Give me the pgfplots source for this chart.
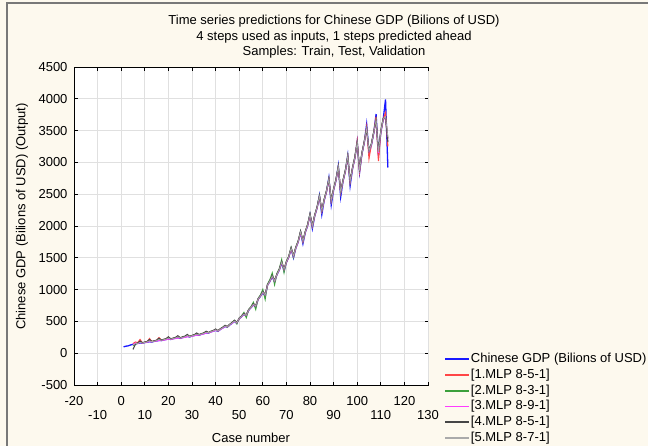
\documentclass[border=0pt]{standalone}
\usepackage{fontspec}
\setmainfont{Liberation Sans}
\usepackage{pgfplots}
\usepackage{pgfplotstable}
\pgfplotsset{compat=1.18}

\definecolor{paper}{RGB}{253,249,238}
\definecolor{frameline}{RGB}{120,120,120}
\definecolor{gdpblue}{RGB}{25,25,255}
\definecolor{mred}{RGB}{255,70,70}
\definecolor{mgreen}{RGB}{60,160,60}
\definecolor{mmag}{RGB}{255,60,255}
\definecolor{mdark}{RGB}{70,70,70}
\definecolor{mlight}{RGB}{170,170,170}

% Quarterly GDP (billions of USD) and the five network predictions
\pgfplotstableread{
x   gdp   m1    m2    m3    m4    m5
1   100   nan   nan   nan   nan   nan
2   110   nan   nan   nan   nan   nan
3   116   nan   nan   nan   nan   nan
4   130   nan   nan   nan   nan   nan
5   141   150   120   135   60    130
6   149   175   150   160   140   150
7   154   165   158   150   160   155
8   160   215   175   170   190   170
9   158   160   162   160   165   160
10  167   175   170   168   175   170
11  173   180   178   175   185   178
12  180   230   200   185   215   195
13  176   182   180   180   185   182
14  186   195   190   188   195   190
15  192   200   198   192   205   198
16  200   245   225   200   235   215
17  198   205   202   200   205   203
18  209   215   212   206   218   212
19  216   222   220   212   228   220
20  225   250   245   222   258   240
21  216   222   220   218   225   220
22  228   232   232   226   238   232
23  235   242   240   232   248   240
24  245   265   262   240   275   258
25  233   240   238   236   242   238
26  246   252   250   244   258   250
27  254   260   258   250   268   258
28  265   282   280   260   295   278
29  255   262   260   258   265   260
30  270   276   274   268   280   274
31  278   286   282   275   292   284
32  290   305   302   285   318   300
33  282   290   288   285   292   288
34  298   302   302   296   308   302
35  307   315   312   305   320   312
36  320   335   332   318   345   330
37  317   322   322   320   325   322
38  335   340   340   333   345   340
39  346   352   350   345   358   352
40  360   372   370   362   380   368
41  344   352   350   350   355   350
42  374   378   380   372   385   378
43  395   400   402   395   408   400
44  420   428   432   422   438   428
45  410   415   412   415   418   414
46  445   450   452   445   455   450
47  470   478   480   472   485   476
48  500   508   515   505   518   506
49  470   480   462   478   482   480
50  543   545   550   545   550   546
51  573   580   585   578   585   580
52  610   618   640   615   625   615
53  590   600   560   598   605   602
54  676   678   685   680   685   680
55  714   720   730   718   725   720
56  760   770   800   768   778   770
57  730   745   690   742   748   745
58  846   848   860   850   855   850
59  893   900   915   898   905   900
60  950   962   1000  958   970   962
61  900   920   850   915   925   918
62  1068  1070  1085  1072  1078  1072
63  1128  1135  1155  1130  1140  1135
64  1200  1212  1260  1210  1220  1212
65  1122  1140  1080  1135  1145  1140
66  1235  1240  1255  1240  1245  1240
67  1306  1315  1330  1310  1320  1315
68  1420  1430  1470  1425  1440  1432
69  1296  1320  1270  1315  1325  1320
70  1427  1432  1445  1430  1440  1435
71  1509  1515  1525  1512  1522  1518
72  1640  1645  1660  1640  1660  1650
73  1501  1530  1510  1525  1535  1530
74  1653  1660  1665  1655  1668  1660
75  1748  1755  1762  1750  1765  1758
76  1900  1905  1915  1900  1920  1910
77  1722  1760  1750  1755  1770  1765
78  1897  1905  1910  1900  1912  1908
79  2006  2015  2020  2010  2025  2018
80  2180  2175  2185  2170  2190  2182
81  1959  2000  1990  1995  2010  2005
82  2158  2165  2170  2162  2175  2168
83  2282  2290  2295  2285  2300  2292
84  2480  2465  2475  2460  2470  2468
85  2180  2240  2230  2235  2250  2245
86  2401  2410  2415  2405  2420  2412
87  2539  2548  2550  2542  2560  2552
88  2760  2730  2740  2725  2735  2738
89  2331  2400  2390  2395  2410  2405
90  2567  2575  2580  2570  2585  2578
91  2714  2722  2728  2718  2735  2725
92  2950  2925  2935  2920  2930  2932
93  2457  2530  2520  2525  2540  2535
94  2706  2712  2718  2708  2722  2715
95  2861  2870  2875  2865  2880  2872
96  3110  3090  3100  3085  3095  3098
97  2631  2700  2690  2695  2710  2705
98  2897  2905  2910  2900  2915  2908
99  3064  3072  3078  3068  3085  3075
100 3330  3340  3300  3290  3305  3310
101 2844  2850  2880  2875  2890  2885
102 3132  3140  3145  3135  3150  3142
103 3312  3320  3325  3315  3330  3322
104 3600  3560  3520  3510  3525  3530
105 3150  3060  3180  3175  3190  3185
106 3271  3280  3285  3275  3290  3282
107 3459  3468  3472  3462  3478  3470
108 3760  3720  3650  3640  3660  3665
109 3103  3020  3160  3150  3170  3165
110 3471  3480  3485  3475  3490  3482
111 3671  3680  3685  3675  3690  3682
112 3990  3780  3700  3690  3710  3720
113 2920  3250  3380  3360  3320  3400
}\gdpdata

\begin{document}
\begin{tikzpicture}
% page area and its frame
\path[use as bounding box, fill=paper] (0,0) rectangle (648pt,-446pt);
\draw[frameline, line width=1.2pt] (7pt,-446pt) -- (7pt,-3pt) -- (648pt,-3pt);

% title
\node[align=center, font=\fontsize{13}{15.5}\selectfont] at (334pt,-37pt)
  {Time series predictions for Chinese GDP (Bilions of USD)\\
   4 steps used as inputs, 1 steps predicted ahead\\
   Samples: Train, Test, Validation};

\begin{axis}[
  at={(74pt,-385pt)}, anchor=south west,
  width=354pt, height=318pt, scale only axis,
  xmin=-20, xmax=130, ymin=-500, ymax=4500,
  xtick={-20,0,...,120},
  extra x ticks={-10,10,...,130},
  extra x tick style={grid=major, xticklabel style={yshift=-14pt}},
  ytick={-500,0,...,4500},
  axis background/.style={fill=white},
  grid=major,
  grid style={draw=black!12, line width=0.9pt},
  tick align=inside, xtick pos=both, ytick pos=both,
  major tick length=3.5pt,
  tick style={black, line width=0.8pt},
  axis line style={black, line width=0.9pt},
  /pgf/number format/assume math mode=true,
  /pgf/number format/1000 sep={},
  scaled ticks=false,
  tick label style={font=\fontsize{13}{13}\selectfont, black},
  xticklabel style={yshift=-8pt},
  yticklabel style={xshift=-3pt},
  xlabel={Case number},
  ylabel={Chinese GDP (Bilions of USD) (Output)},
  every axis x label/.style={at={(axis description cs:0.5,0)}, anchor=center,
    yshift=-53pt, font=\fontsize{13}{13}\selectfont},
  every axis y label/.style={at={(axis description cs:-0.147,0.53)}, anchor=center,
    rotate=90, font=\fontsize{13}{13}\selectfont},
  legend cell align=left,
  legend style={
    at={(axis description cs:1.045,0.106)}, anchor=north west,
    draw=none, fill=none, inner sep=0pt,
    font=\fontsize{13}{13}\selectfont,
    nodes={inner xsep=1pt, inner ysep=1.85pt, text height=9.5pt, text depth=2.5pt},
    column sep=0pt,
  },
  legend image code/.code={%
    \draw[#1, line width=1.8pt] (0pt,0pt) -- (24pt,0pt);},
  every axis plot/.append style={line width=1.1pt},
]
\addplot[gdpblue, line width=1.3pt] table[x=x, y=gdp] {\gdpdata};
\addlegendentry{Chinese GDP (Bilions of USD)}
\addplot[mred] table[x=x, y=m1] {\gdpdata};
\addlegendentry{[1.MLP 8-5-1]}
\addplot[mgreen] table[x=x, y=m2] {\gdpdata};
\addlegendentry{[2.MLP 8-3-1]}
\addplot[mmag] table[x=x, y=m3] {\gdpdata};
\addlegendentry{[3.MLP 8-9-1]}
\addplot[mdark] table[x=x, y=m4] {\gdpdata};
\addlegendentry{[4.MLP 8-5-1]}
\addplot[mlight, line width=0.7pt] table[x=x, y=m5] {\gdpdata};
\addlegendentry{[5.MLP 8-7-1]}
\end{axis}
\end{tikzpicture}
\end{document}
